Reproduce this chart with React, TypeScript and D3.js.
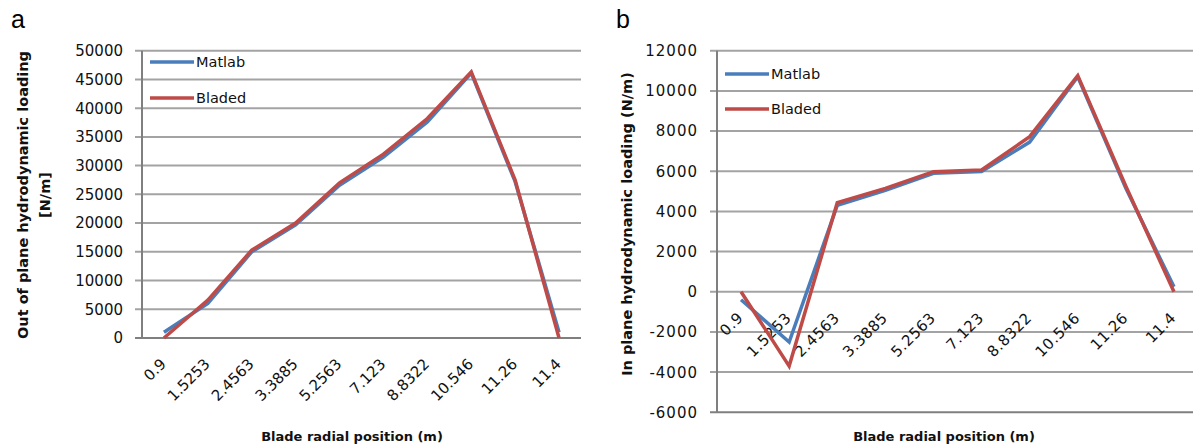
import * as d3 from "d3";

// blade radial positions (m), shared by both panels
const positions = ["0.9", "1.5253", "2.4563", "3.3885", "5.2563", "7.123", "8.8322", "10.546", "11.26", "11.4"];

// panel a: out of plane loading (N/m)
const outMatlab = [1000, 6000, 15000, 19700, 26600, 31500, 37600, 46100, 27200, 1000];
const outBladed = [0, 6600, 15300, 20000, 27000, 32000, 38200, 46300, 27500, 0];
const outTicks = [0, 5000, 10000, 15000, 20000, 25000, 30000, 35000, 40000, 45000, 50000];

// panel b: in plane loading (N/m)
const inMatlab = [-400, -2500, 4300, 5050, 5900, 5980, 7450, 10700, 5150, 250];
const inBladed = [0, -3700, 4430, 5150, 5980, 6060, 7720, 10760, 5250, 0];
const inTicks = [-6000, -4000, -2000, 0, 2000, 4000, 6000, 8000, 10000, 12000];

const seriesNames = ["Matlab", "Bladed"];
const colors = ["#4a7ebb", "#be4b48"];

const FONT = "'DejaVu Sans', Verdana, sans-serif";

interface PanelProps {
  letter: string;
  letterX: number;
  left: number;
  right: number;
  top: number;
  bottom: number;
  domain: [number, number];
  ticks: number[];
  tickSpacing: number;
  series: number[][];
  yTitle: string[];
  yTitleX: number[];
  yTitleY: number;
  xTitle: string;
  xTitleX: number;
  legendY: number[];
}

function Panel(p: PanelProps) {
  const x = d3.scaleBand<string>().domain(positions).range([p.left, p.right]);
  const y = d3.scaleLinear().domain(p.domain).range([p.bottom, p.top]);
  const cx = (d: string) => (x(d) ?? 0) + x.bandwidth() / 2;
  const line = d3
    .line<number>()
    .x((_, i) => cx(positions[i]))
    .y((v) => y(v));
  const zeroY = y(Math.max(0, p.domain[0]));

  return (
    <g>
      <text x={p.letterX} y={28} fontFamily="'Liberation Sans', Arial, sans-serif" fontSize={25} fill="#000">
        {p.letter}
      </text>

      {/* gridlines + y ticks */}
      {p.ticks.map((t) => (
        <g key={t}>
          <line
            x1={p.left - 7}
            x2={p.right}
            y1={y(t)}
            y2={y(t)}
            stroke={t === p.domain[0] ? "#7f7f7f" : "#a3a3a3"}
            strokeWidth={2}
          />
          <text
            x={p.left - 19}
            y={y(t)}
            dy="0.36em"
            textAnchor="end"
            fontFamily={FONT}
            fontSize={15}
            letterSpacing={p.tickSpacing}
            fill="#111"
          >
            {t}
          </text>
        </g>
      ))}
      <line x1={p.left} x2={p.left} y1={p.top} y2={p.bottom} stroke="#7f7f7f" strokeWidth={2} />

      {/* x tick labels, rotated */}
      {positions.map((d) => (
        <text
          key={d}
          transform={`translate(${cx(d) + 3},${zeroY + 27}) rotate(-45)`}
          textAnchor="end"
          fontFamily={FONT}
          fontSize={15}
          letterSpacing={p.tickSpacing / 2}
          fill="#111"
        >
          {d}
        </text>
      ))}

      {/* series, Bladed drawn over Matlab */}
      {p.series.map((s, i) => (
        <path key={i} d={line(s) ?? ""} fill="none" stroke={colors[i]} strokeWidth={3.5} strokeLinejoin="miter" />
      ))}

      {/* legend */}
      {seriesNames.map((n, i) => (
        <g key={n}>
          <line x1={p.left + 8} x2={p.left + 52} y1={p.legendY[i]} y2={p.legendY[i]} stroke={colors[i]} strokeWidth={3.5} />
          <text x={p.left + 54} y={p.legendY[i]} dy="0.36em" fontFamily={FONT} fontSize={14.5} fill="#111">
            {n}
          </text>
        </g>
      ))}

      {/* axis titles */}
      {p.yTitle.map((t, i) => (
        <text
          key={t}
          transform={`translate(${p.yTitleX[i]},${p.yTitleY}) rotate(-90)`}
          textAnchor="middle"
          dy="0.36em"
          fontFamily={FONT}
          fontWeight="bold"
          fontSize={14.5}
          fill="#111"
        >
          {t}
        </text>
      ))}
      <text x={p.xTitleX} y={436} textAnchor="middle" dy="0.36em" fontFamily={FONT} fontWeight="bold" fontSize={13} fill="#111">
        {p.xTitle}
      </text>
    </g>
  );
}

export default function App() {
  return (
    <svg
      width={1193}
      height={447}
      style={{ position: "absolute", left: 0, top: 0, background: "#fff" }}
    >
      <rect width={1193} height={447} fill="#fff" />
      <Panel
        letter="a"
        letterX={11}
        left={142}
        right={581}
        top={50.7}
        bottom={338}
        domain={[0, 50000]}
        ticks={outTicks}
        tickSpacing={0}
        series={[outMatlab, outBladed]}
        yTitle={["Out of plane hydrodynamic loading", "[N/m]"]}
        yTitleX={[23, 45]}
        yTitleY={195}
        xTitle="Blade radial position (m)"
        xTitleX={352}
        legendY={[62, 98]}
      />
      <Panel
        letter="b"
        letterX={616}
        left={717}
        right={1198}
        top={50.7}
        bottom={412.3}
        domain={[-6000, 12000]}
        ticks={inTicks}
        tickSpacing={1}
        series={[inMatlab, inBladed]}
        yTitle={["In plane hydrodynamic loading (N/m)"]}
        yTitleX={[627]}
        yTitleY={224}
        xTitle="Blade radial position (m)"
        xTitleX={944}
        legendY={[74, 109]}
      />
    </svg>
  );
}
